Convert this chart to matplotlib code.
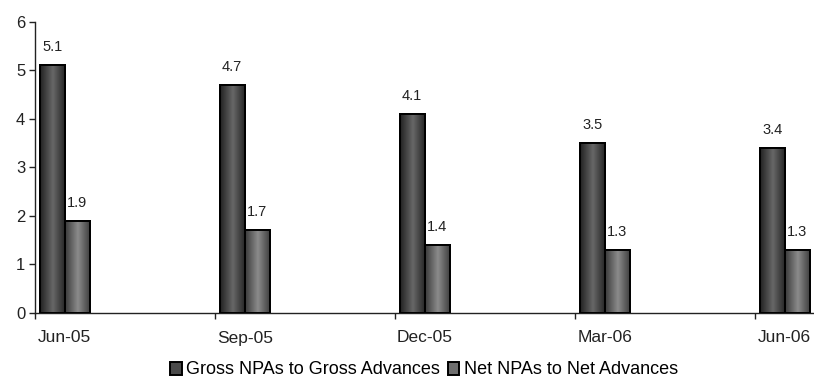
import numpy as np
import matplotlib.pyplot as plt
from matplotlib.colors import LinearSegmentedColormap

plt.rcParams['font.family'] = ['Liberation Sans', 'DejaVu Sans']

# quarter labels and NPA ratios (%)
quarters = ['Jun-05', 'Sep-05', 'Dec-05', 'Mar-06', 'Jun-06']
gross_npa = [5.1, 4.7, 4.1, 3.5, 3.4]
net_npa = [1.9, 1.7, 1.4, 1.3, 1.3]

fig = plt.figure(figsize=(8.14, 3.81), dpi=100)
ax = fig.add_axes([35/814, 68/381, 779/814, 291.5/381])

x = np.arange(len(quarters))
width = 0.14
offset = 0.025

gross_bars = ax.bar(x + offset, gross_npa, width, align='edge', color='#4a4a4a',
                    edgecolor='black', linewidth=1.4, zorder=3,
                    label='Gross NPAs to Gross Advances')
net_bars = ax.bar(x + offset + width, net_npa, width, align='edge', color='#6e6e6e',
                  edgecolor='black', linewidth=1.4, zorder=3,
                  label='Net NPAs to Net Advances')

# shaded cylinder look for each bar
grad = np.abs(np.linspace(-1, 1, 64))[None, :]
shade_gross = LinearSegmentedColormap.from_list('g', ['#666666', '#222222'])
shade_net = LinearSegmentedColormap.from_list('n', ['#8a8a8a', '#3a3a3a'])
for bars, cmap in [(gross_bars, shade_gross), (net_bars, shade_net)]:
    for b in bars:
        x0, y0 = b.get_x(), b.get_y()
        im = ax.imshow(grad, cmap=cmap, aspect='auto', zorder=3.5,
                       extent=[x0, x0 + b.get_width(), y0, y0 + b.get_height()])
        im.set_clip_path(b)
        edge = plt.Rectangle((x0, y0), b.get_width(), b.get_height(), fill=False,
                             edgecolor='black', linewidth=1.4, zorder=4)
        ax.add_patch(edge)

for bars, vals in [(gross_bars, gross_npa), (net_bars, net_npa)]:
    for b, v in zip(bars, vals):
        ax.annotate(f'{v:.1f}', (b.get_x() + b.get_width() / 2, v),
                    xytext=(0, 13), textcoords='offset points',
                    ha='center', va='center', fontsize=10.5, color='#222222')

ax.set_xlim(0, 779 / 180)
ax.set_ylim(0, 6)
ax.set_yticks(range(7))
ax.set_xticks(x)
ax.set_xticklabels([])
for i, q in enumerate(quarters):
    ax.annotate(q, (i + offset + width, 0), xytext=(0, -18),
                textcoords='offset points', ha='center', va='center',
                fontsize=12.5, color='#222222', annotation_clip=False)

ax.spines['top'].set_visible(False)
ax.spines['right'].set_visible(False)
for s in ['left', 'bottom']:
    ax.spines[s].set_linewidth(1.0)
    ax.spines[s].set_color('#222222')
ax.tick_params(axis='y', length=4, width=1, labelsize=12, pad=3, colors='#222222')
ax.tick_params(axis='x', length=4, width=1, colors='#222222')

fig.legend(handles=[gross_bars, net_bars], loc='center',
           bbox_to_anchor=(0.521, 11 / 381), ncol=2, frameon=False, fontsize=13,
           handlelength=0.65, handleheight=0.7, handletextpad=0.25,
           columnspacing=0.4, borderaxespad=0, borderpad=0)

fig.savefig('out.png', dpi=100)
